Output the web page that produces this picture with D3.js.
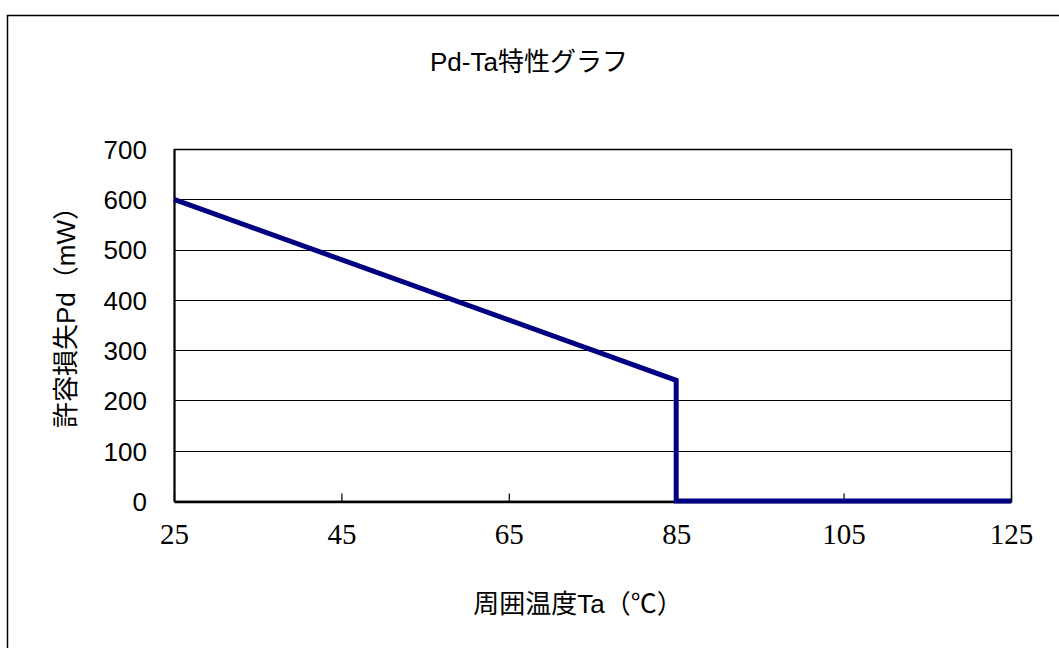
<!DOCTYPE html>
<html>
<head>
<meta charset="utf-8">
<script src="https://d3js.org/d3.v7.min.js"></script>
<style>
  body { margin: 0; background: #fff; }
  .sans { font-family: Arial, "Liberation Sans", "Noto Sans CJK JP", sans-serif; fill: #000; }
  .serif { font-family: "Liberation Serif", "DejaVu Serif", serif; fill: #000; }
</style>
</head>
<body>
<div class="chart"></div>
<script>
// chart data
var temps = [25, 85, 85, 125];
var power = [600, 240, 0, 0];
var xTicks = [25, 45, 65, 85, 105, 125];
var yTicks = [0, 100, 200, 300, 400, 500, 600, 700];

var svgWidth = 1059;
var svgHeight = 648;

var margin = { top: 149, right: 48, bottom: 147, left: 174 };
var width = svgWidth - margin.left - margin.right;
var height = svgHeight - margin.top - margin.bottom;

var svg = d3.select(".chart")
  .append("svg")
  .attr("width", svgWidth)
  .attr("height", svgHeight);

// outer frame (runs past the right and bottom edge)
svg.append("rect")
  .attr("x", 7.5)
  .attr("y", 15.5)
  .attr("width", 1100)
  .attr("height", 700)
  .attr("fill", "none")
  .attr("stroke", "#000")
  .attr("stroke-width", 1.5);

var chartGroup = svg.append("g")
  .attr("transform", `translate(${margin.left}, ${margin.top})`);

var xScale = d3.scaleLinear().domain([25, 125]).range([0, width]);
var yScale = d3.scaleLinear().domain([0, 700]).range([height, 0]);

// gridlines
chartGroup.append("g")
  .selectAll("line")
  .data(yTicks)
  .enter()
  .append("line")
  .attr("x1", 0)
  .attr("x2", width)
  .attr("y1", d => Math.round(yScale(d)) + 0.5)
  .attr("y2", d => Math.round(yScale(d)) + 0.5)
  .attr("stroke", "#000")
  .attr("stroke-width", 1.2);

// plot border
chartGroup.append("rect")
  .attr("x", 0.5)
  .attr("y", 0.5)
  .attr("width", width)
  .attr("height", height)
  .attr("fill", "none")
  .attr("stroke", "#000")
  .attr("stroke-width", 1.5);

// x axis, inside ticks
var bottomAxis = d3.axisBottom(xScale)
  .tickValues(xTicks)
  .tickSizeInner(-8)
  .tickSizeOuter(0)
  .tickPadding(22);

var xAxis = chartGroup.append("g")
  .attr("transform", `translate(0, ${height + 0.5})`)
  .call(bottomAxis);
xAxis.select(".domain").attr("stroke", "#000").attr("stroke-width", 2.5);
xAxis.selectAll(".tick line").attr("stroke", "#000").attr("stroke-width", 1.2);
xAxis.selectAll("text")
  .attr("class", "serif")
  .style("font-size", "29px");

// y axis
var leftAxis = d3.axisLeft(yScale)
  .tickValues(yTicks)
  .tickSize(0)
  .tickPadding(27);

var yAxis = chartGroup.append("g")
  .call(leftAxis);
yAxis.select(".domain").attr("stroke", "#000").attr("stroke-width", 2);
yAxis.selectAll("text")
  .attr("class", "sans")
  .attr("dy", "0.36em")
  .style("font-size", "26px");

// series line
var line = d3.line()
  .x((d, i) => xScale(temps[i]))
  .y(d => yScale(d));

chartGroup.append("path")
  .datum(power)
  .attr("d", line)
  .attr("fill", "none")
  .attr("stroke", "#000080")
  .attr("stroke-width", 5)
  .attr("stroke-linejoin", "miter");

// title
svg.append("text")
  .attr("class", "sans")
  .attr("x", 529)
  .attr("y", 71)
  .attr("text-anchor", "middle")
  .style("font-size", "26px")
  .text("Pd-Ta特性グラフ");

// axes labels
svg.append("text")
  .attr("class", "sans")
  .attr("transform", "translate(75, 311) rotate(-90)")
  .attr("text-anchor", "middle")
  .style("font-size", "26px")
  .text("許容損失Pd（mW）");

svg.append("text")
  .attr("class", "sans")
  .attr("x", 578)
  .attr("y", 613)
  .attr("text-anchor", "middle")
  .style("font-size", "26px")
  .text("周囲温度Ta（℃）");
</script>
</body>
</html>
